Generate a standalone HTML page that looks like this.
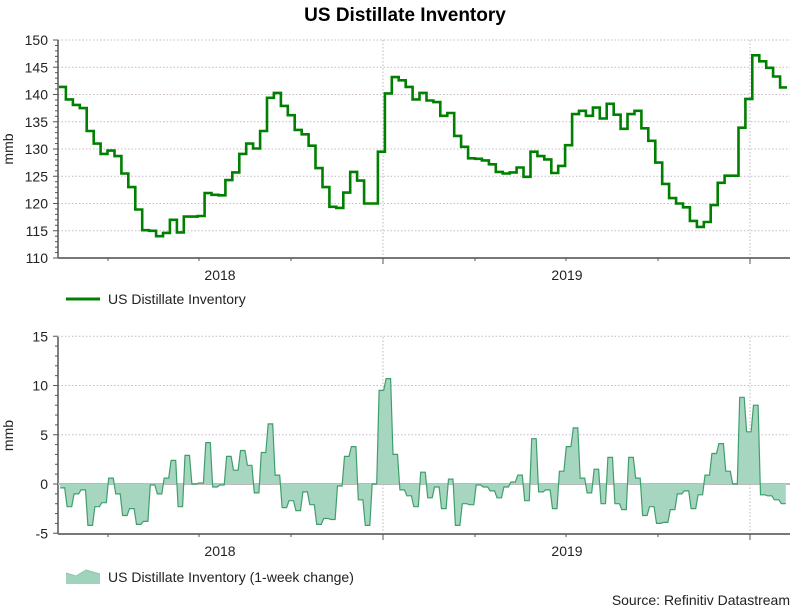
<!DOCTYPE html>
<html><head><meta charset="utf-8"><style>
body{margin:0;background:#fff;}
svg{display:block;font-family:"Liberation Sans",Arial,sans-serif;}
</style></head><body>
<svg id="chart" width="810" height="609" viewBox="0 0 810 609" xmlns="http://www.w3.org/2000/svg">
<text x="405" y="21" text-anchor="middle" font-size="19" font-weight="bold" fill="#000">US Distillate Inventory</text>
<g id="topPanel"></g>
<g id="bottomPanel"></g>
<g>
<line x1="66" y1="299" x2="100" y2="299" stroke="#008000" stroke-width="3"/>
<text x="108" y="304" font-size="14" fill="#222">US Distillate Inventory</text>
</g>
<g>
<path d="M66,584 L66,573 L76,576 L86,570 L100,574 L100,584 Z" fill="#9fd3bb" stroke="none"/>
<path d="M66,573 L76,576 L86,570 L100,574" fill="none" stroke="#8cc6ab" stroke-width="1"/>
<text x="108" y="582" font-size="14" fill="#222">US Distillate Inventory (1-week change)</text>
</g>
<text x="790" y="605" text-anchor="end" font-size="14" fill="#222">Source: Refinitiv Datastream</text>
</svg>
<script>
const levels=[141.4,139.1,138.1,137.5,133.3,131.0,129.1,129.7,128.7,125.5,123.0,118.9,115.1,115.0,114.0,114.6,117.0,114.7,117.6,117.6,117.7,121.9,121.6,121.5,124.3,125.7,129.1,131.0,130.1,133.3,139.4,140.3,137.9,136.2,133.5,132.7,130.6,126.5,123.0,119.4,119.2,122.0,125.8,124.2,120.0,120.0,129.5,140.2,143.2,142.6,141.4,139.1,140.3,138.9,138.6,136.1,136.6,132.4,130.4,128.3,128.2,127.9,127.2,125.8,125.5,125.7,126.6,124.9,129.5,128.7,128.1,125.6,126.9,130.7,136.4,137.0,136.1,137.6,135.6,138.3,136.3,133.7,136.4,137.0,133.8,131.5,127.5,123.6,121.0,120.0,119.3,116.8,115.7,116.6,119.7,123.8,125.1,125.1,133.9,139.2,147.2,146.1,144.9,143.3,141.3];
const changes=[-0.4,-2.3,-1.0,-0.6,-4.2,-2.3,-1.9,0.6,-1.0,-3.2,-2.5,-4.1,-3.8,-0.1,-1.0,0.6,2.4,-2.3,2.9,0,0.1,4.2,-0.3,-0.1,2.8,1.4,3.4,1.9,-0.9,3.2,6.1,0.9,-2.4,-1.7,-2.7,-0.8,-2.1,-4.1,-3.5,-3.6,-0.2,2.8,3.8,-1.6,-4.2,0,9.5,10.7,3.0,-0.6,-1.2,-2.3,1.2,-1.4,-0.3,-2.5,0.5,-4.2,-2.0,-2.1,-0.1,-0.3,-0.7,-1.4,-0.3,0.2,0.9,-1.7,4.6,-0.8,-0.6,-2.5,1.3,3.8,5.7,0.6,-0.9,1.5,-2.0,2.7,-2.0,-2.6,2.7,0.6,-3.2,-2.3,-4.0,-3.9,-2.6,-1.0,-0.7,-2.5,-1.1,0.9,3.1,4.1,1.3,0,8.8,5.3,8.0,-1.1,-1.2,-1.6,-2.0];
const topTicks=[110,115,120,125,130,135,140,145,150];
const bottomTicks=[-5,0,5,10,15];
const yearLabels=["2018","2019"];

const NS="http://www.w3.org/2000/svg";
const X0=59,X1=787,PL=58,PR=790;
const W=(X1-X0)/levels.length;
function xw(i){return X0+i*W;}
function yTop(v){return 258-(v-110)*(218/40);}
function yBot(v){return 484-v*(197/20);}
function mk(tag,attrs,parent){const e=document.createElementNS(NS,tag);for(const k in attrs)e.setAttribute(k,attrs[k]);parent.appendChild(e);return e;}

function frame(g,yf,ticks,minStep,ybottom,ytop,name){
  ticks.forEach((t,i)=>{
    if(i>0){const gl=mk('line',{x1:PL,x2:PR,y1:yf(t),y2:yf(t),stroke:'#c8b8c8','stroke-dasharray':'1.5,2','stroke-width':1},g);
    
    }
    const tl=mk('text',{x:48,y:yf(t)+5,'text-anchor':'end','font-size':14,fill:'#222'},g);
    tl.textContent=t;
    
    
  });
  for(let v=ticks[0];v<=ticks[ticks.length-1];v+=minStep){
    const major=(v%5===0);
    mk('line',{x1:major?PL-5:PL-3,x2:PL,y1:yf(v),y2:yf(v),stroke:'#555','stroke-width':1},g);
  }
  [383,750].forEach(x=>{
    const v=mk('line',{x1:x,x2:x,y1:ytop,y2:ybottom,stroke:'#bbb','stroke-dasharray':'1.5,2'},g);
    
    
  });
  mk('line',{x1:PL,x2:PL,y1:ytop,y2:ybottom,stroke:'#555','stroke-width':1.5},g);
  mk('line',{x1:PL,x2:PR,y1:ybottom,y2:ybottom,stroke:'#777','stroke-width':2},g);
  [108,199,291,475,566,658].forEach(x=>mk('line',{x1:x,x2:x,y1:ybottom,y2:ybottom+3,stroke:'#555'},g));
  [383,750].forEach(x=>mk('line',{x1:x,x2:x,y1:ybottom,y2:ybottom+6,stroke:'#555'},g));
  [[220,yearLabels[0]],[567,yearLabels[1]]].forEach(([x,t])=>{
    const e=mk('text',{x:x,y:ybottom+22,'text-anchor':'middle','font-size':14,fill:'#222'},g);
    e.textContent=t;
    
    
  });
  const mm=mk('text',{x:0,y:0,'text-anchor':'middle','font-size':14,fill:'#222',transform:`translate(13,${(ytop+ybottom)/2}) rotate(-90)`},g);
  mm.textContent='mmb';
  
  
}

const topG=document.getElementById('topPanel');


frame(topG,yTop,topTicks,1,258,40,'top');
let lineD='';
levels.forEach((v,i)=>{const y=yTop(v);lineD+=(i===0?'M':'L')+xw(i).toFixed(1)+','+y.toFixed(1)+'L'+xw(i+1).toFixed(1)+','+y.toFixed(1);});
const invLine=mk('path',{d:lineD,fill:'none',stroke:'#008000','stroke-width':2.6,'stroke-linejoin':'miter'},topG);



const botG=document.getElementById('bottomPanel');


frame(botG,yBot,bottomTicks,1,534,337,'bottom');
mk('line',{x1:PL,x2:PR,y1:yBot(0),y2:yBot(0),stroke:'#bbb','stroke-width':2},botG);
const chPts=[];
changes.forEach((v,i)=>{const y=yBot(v);chPts.push([xw(i)+1.2,y]);chPts.push([xw(i+1)-1.2,y]);});
let areaD='M'+chPts[0][0].toFixed(1)+','+yBot(0);
chPts.forEach(p=>areaD+='L'+p[0].toFixed(1)+','+p[1].toFixed(1));
areaD+='L'+chPts[chPts.length-1][0].toFixed(1)+','+yBot(0)+'Z';
const chArea=mk('path',{d:areaD,fill:'#a6d6bf',stroke:'none'},botG);


let chD='';
chPts.forEach((p,i)=>chD+=(i===0?'M':'L')+p[0].toFixed(1)+','+p[1].toFixed(1));
const chLine=mk('path',{d:chD,fill:'none',stroke:'#3f9f6c','stroke-width':1.2},botG);


</script>
</body></html>
